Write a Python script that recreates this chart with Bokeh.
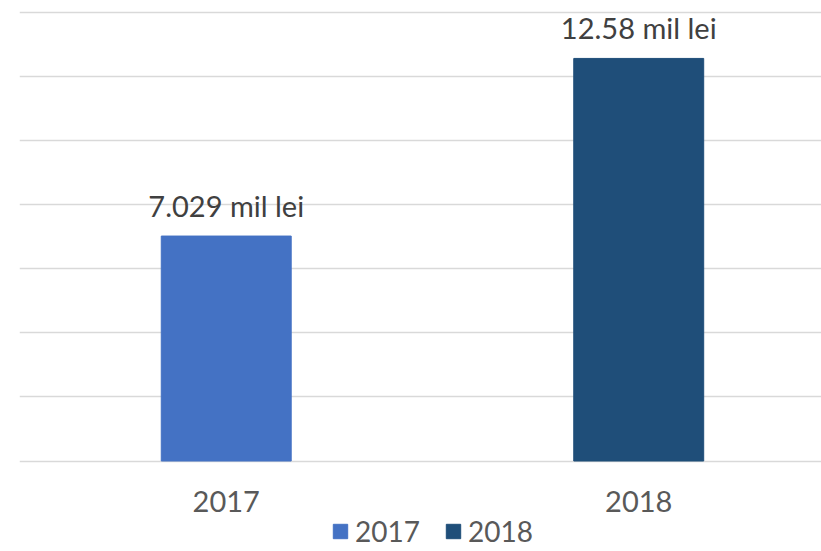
from bokeh.plotting import figure
from bokeh.models import ColumnDataSource, Range1d, FixedTicker, Legend, LegendItem
from bokeh.core.properties import value
from bokeh.embed import file_html
from bokeh.resources import INLINE

years = ["2017", "2018"]
positions = [0, 1]
values = [7.029, 12.58]
labels = ["7.029 mil lei", "12.58 mil lei"]
colors = ["#4472C4", "#1F4E79"]
grid_ticks = [0, 2, 4, 6, 8, 10, 12, 14]

FONT = "Lato"

src = ColumnDataSource(dict(x=positions, top=values, year=years, label=labels,
                            color=colors, base=[0] * len(years)))

p = figure(width=821, height=551, output_backend="svg", toolbar_location=None,
           x_range=Range1d(-0.5012, 1.4431), y_range=Range1d(-2.828, 14.39),
           min_border=0, min_border_left=19)
p.outline_line_color = None
p.background_fill_color = "white"
p.border_fill_color = "white"
p.xaxis.visible = False
p.yaxis.visible = False
p.xgrid.visible = False

p.ygrid.ticker = FixedTicker(ticks=grid_ticks)
p.ygrid.grid_line_color = "#d9d9d9"
p.ygrid.grid_line_width = 1.5

r = p.vbar(x="x", top="top", bottom="base", width=0.315, color="color", source=src)

# value labels above bars
p.text(x="x", y="top", text="label", source=src, text_align="center",
       text_baseline="alphabetic", y_offset=-31, text_font=value(FONT),
       text_font_size="29px", text_color="#404040")

# category labels below baseline
p.text(x="x", y="base", text="year", source=src, text_align="center",
       text_baseline="middle", y_offset=40, text_font=value(FONT),
       text_font_size="29px", text_color="#595959")

legend = Legend(items=[LegendItem(label=years[i], renderers=[r], index=i) for i in range(len(years))],
                orientation="horizontal", location=(312, 3),
                label_text_font=FONT, label_text_font_size="28px", label_text_color="#595959",
                glyph_width=18, glyph_height=18, spacing=24, padding=0, margin=0,
                label_standoff=6, border_line_color=None, background_fill_alpha=0)
p.add_layout(legend)

open("out.html", "w").write(file_html(p, INLINE))
